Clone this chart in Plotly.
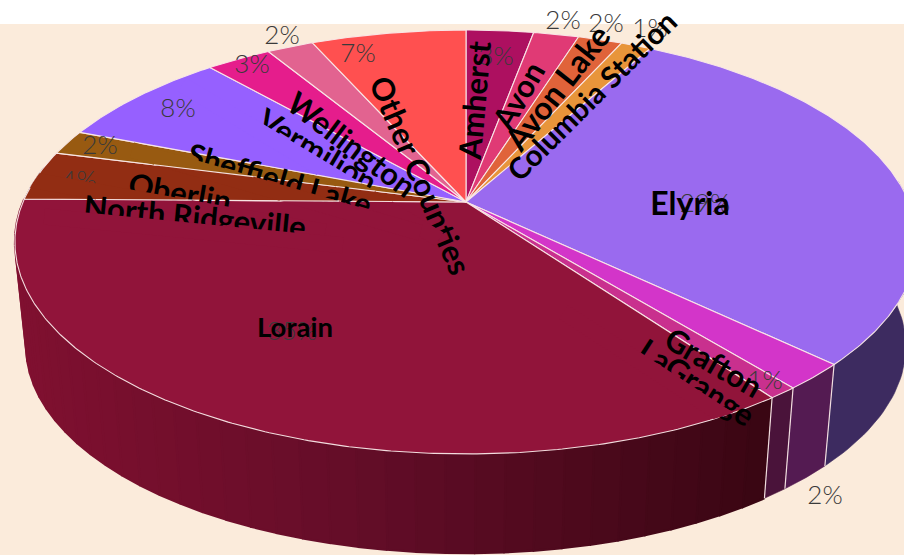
import numpy as np
import plotly.graph_objects as go

# ---- data ----
categories = ["Amherst", "Avon", "Avon Lake", "Columbia Station", "Elyria", "Grafton", "LaGrange",
              "Lorain", "North Ridgeville", "Oberlin", "Sheffield Lake", "Vermilion", "Wellington",
              "Other Counties"]
values = [2.9, 1.95, 1.9, 1.3, 29.1, 2.0, 0.9, 35.18, 3.8, 1.9, 7.6, 2.8, 2.0, 6.67]
colors = ["#AD1060", "#E03A75", "#E0633A", "#E8953A", "#9A6AEF", "#D335C9", "#C9308E",
          "#91143A", "#922D13", "#985A11", "#9660FF", "#E51D8C", "#E26390", "#FF5050"]
side_colors = {"Elyria": "#3D2B60", "Grafton": "#541B52", "LaGrange": "#4A133A"}

# ---- label placement (style) ----
pct_pos = [(496, 58), (563, 22), (606, 25), (650, 30), (705, 205), (825, 497), (765, 382),
           (292, 333), (79, 182), (100, 147), (178, 110), (252, 66), (282, 37), (358, 55)]
# centre x, centre y, angle, font size, clip offset below centre (None = not clipped)
label_style = {
    "Amherst": (474, 100, -85, 31, None),
    "Avon": (518, 95, -60, 31, None),
    "Avon Lake": (557, 87, -52, 32, None),
    "Columbia Station": (591, 95, -45, 29.5, None),
    "Elyria": (690, 202, 0, 32, None),
    "Grafton": (714, 362, 30, 31, None),
    "LaGrange": (697, 382, 33, 31, 6),
    "Lorain": (295, 326, 0, 27.5, None),
    "North Ridgeville": (195, 216, 5.5, 31, 7),
    "Oberlin": (180, 192, 10, 31, 6),
    "Sheffield Lake": (280, 178, 16, 30.5, 6),
    "Vermilion": (318, 150, 31, 31, 6),
    "Wellington": (352, 144, 37, 31, None),
    "Other Counties": (421, 175, 67, 31, None),
}
draw_order = ["Other Counties", "Amherst", "Avon", "Avon Lake", "Columbia Station", "Elyria", "Lorain",
              "Grafton", "LaGrange", "Vermilion", "Wellington", "Sheffield Lake", "Oberlin",
              "North Ridgeville"]

# ---- projection of the tilted disc ----
CX, CY = 466.0, 202.0
A, K, C = 443.0, 204.4, 0.1887
S, DY = 0.975, 105.5
LINE = "rgba(250,232,232,0.95)"


def rim(theta_deg):
    t = np.radians(theta_deg)
    u, v = np.sin(t), -np.cos(t)
    w = 1 - C * v
    return A * u / w, K * v / w


def top(theta):
    x, y = rim(theta)
    return CX + x, CY + y


def bottom(theta):
    x, y = rim(theta)
    return CX + S * x, CY + DY + S * y


edges = np.concatenate([[0.0], np.cumsum(values)]) / np.sum(values) * 360.0
fig = go.Figure()


def poly(xs, ys, fill, line=None, width=0):
    fig.add_trace(go.Scatter(x=xs, y=ys, mode="lines", fill="toself", fillcolor=fill, hoverinfo="skip",
                             line=dict(color=line or fill, width=width), showlegend=False))


def mix(t):
    stops = [(0.0, (128, 16, 48)), (0.45, (100, 13, 40)), (1.0, (58, 6, 19))]
    for (a, ca), (b, cb) in zip(stops, stops[1:]):
        if t <= b:
            f = (t - a) / (b - a)
            return "rgb(%d,%d,%d)" % tuple(round(p + f * (q - p)) for p, q in zip(ca, cb))
    return "rgb(58,6,19)"


# side walls
SIDE_MIN, SIDE_MAX = 84.0, 280.0
for i, name in enumerate(categories):
    a0, a1 = max(edges[i], SIDE_MIN), min(edges[i + 1], SIDE_MAX)
    if a1 <= a0:
        continue
    if name == "Lorain":
        cuts = np.linspace(a1, a0, 41)
        for j in range(40):
            th = np.linspace(cuts[j + 1], cuts[j], 5)
            tx, ty = top(th)
            bx, by = bottom(th)
            xm = (tx.mean() - 15) / 750
            poly(np.r_[tx, bx[::-1]], np.r_[ty, by[::-1]], mix(min(1, max(0, xm))), None, 2.2)
    else:
        th = np.linspace(a0, a1, 40)
        tx, ty = top(th)
        bx, by = bottom(th)
        poly(np.r_[tx, bx[::-1]], np.r_[ty, by[::-1]], side_colors.get(name, "#3D2B60"), None, 0.6)
for i, name in enumerate(categories):
    if SIDE_MIN < edges[i] < 150:
        tx, ty = top(edges[i])
        bx, by = bottom(edges[i])
        fig.add_trace(go.Scatter(x=[tx, bx], y=[ty, by], mode="lines", hoverinfo="skip", showlegend=False,
                                 line=dict(color=LINE, width=1.2)))

# top faces
wedges = {}
for i, name in enumerate(categories):
    th = np.linspace(edges[i], edges[i + 1], max(6, int((edges[i + 1] - edges[i]) * 2)))
    x, y = top(th)
    wedges[name] = (np.r_[CX, x, CX], np.r_[CY, y, CY])
    poly(wedges[name][0], wedges[name][1], colors[i], LINE, 1.1)

# percentage labels
fig.add_trace(go.Scatter(x=[p[0] for p in pct_pos], y=[p[1] for p in pct_pos], mode="text",
                         text=["%d%%" % round(v) for v in values], cliponaxis=False, hoverinfo="skip",
                         textfont=dict(family="Lato Light, Lato", size=26, color="#3a3a3a"), showlegend=False))


def clip_poly(pts, rect):
    out = list(pts)
    n = len(rect)
    for k in range(n):
        a, b = np.array(rect[k]), np.array(rect[(k + 1) % n])
        inp, out = out, []
        inside = lambda p: (b[0] - a[0]) * (p[1] - a[1]) - (b[1] - a[1]) * (p[0] - a[0]) >= 0
        for m in range(len(inp)):
            p, q = np.array(inp[m]), np.array(inp[(m + 1) % len(inp)])
            ip, iq = inside(p), inside(q)
            if ip:
                out.append(p)
            if ip != iq:
                d = q - p
                e = b - a
                den = e[0] * d[1] - e[1] * d[0]
                s = (e[1] * (p[0] - a[0]) - e[0] * (p[1] - a[1])) / den
                out.append(p + s * d)
        if not out:
            return []
    return out


def path(pts, close=True):
    return "M " + " L ".join("%.2f %.2f" % (p[0], p[1]) for p in pts) + (" Z" if close else "")


# beige chart panel below the white strip at the top
shapes = [dict(type="rect", xref="x", yref="y", x0=0, x1=904, y0=24, y1=555, layer="below",
               fillcolor="#FBEBDB", line=dict(width=0))]
for name in draw_order:
    lx, ly, ang, size, off = label_style[name]
    shapes.append(dict(type="rect", xref="x", yref="y", x0=lx - 1, x1=lx + 1, y0=ly - 1, y1=ly + 1,
                       layer="above", line=dict(width=0), fillcolor="rgba(0,0,0,0)",
                       label=dict(text=name, textangle=ang, textposition="middle center", padding=0,
                                  font=dict(family="Lato", size=size, color="#000000", weight=700))))
    if off is None:
        continue
    r = np.radians(ang)
    ux, uy = np.cos(r), np.sin(r)
    nx, ny = -uy, ux
    half, h = 150, 16
    c = np.array([lx, ly])
    U, N = np.array([ux, uy]), np.array([nx, ny])
    rect = [c - half * U + off * N, c + half * U + off * N, c + half * U + (off + h) * N, c - half * U + (off + h) * N]
    if (rect[1] - rect[0])[0] * (rect[2] - rect[0])[1] - (rect[1] - rect[0])[1] * (rect[2] - rect[0])[0] < 0:
        rect = rect[::-1]
    for i, cat in enumerate(categories):
        wx, wy = wedges[cat]
        pts = clip_poly(list(zip(wx[:-1], wy[:-1])), rect)
        if len(pts) >= 3:
            shapes.append(dict(type="path", xref="x", yref="y", path=path(pts), layer="above",
                               fillcolor=colors[i], line=dict(width=0)))
    for e in edges[:-1]:
        ex, ey = top(e)
        seg = clip_poly([(CX, CY), (ex, ey)], rect)
        if len(seg) >= 2:
            shapes.append(dict(type="path", xref="x", yref="y", path=path(seg, False), layer="above",
                               line=dict(color=LINE, width=1.1)))

fig.update_layout(
    width=904, height=555, autosize=False, margin=dict(l=0, r=0, t=0, b=0),
    paper_bgcolor="#FFFFFF", plot_bgcolor="#FFFFFF", showlegend=False, shapes=shapes,
    xaxis=dict(range=[0, 904], visible=False, fixedrange=True),
    yaxis=dict(range=[555, 0], visible=False, fixedrange=True),
)
fig.write_html("out.html", config={"displayModeBar": False},
               post_script="document.body.style.margin='0';document.body.style.overflow='hidden';")
